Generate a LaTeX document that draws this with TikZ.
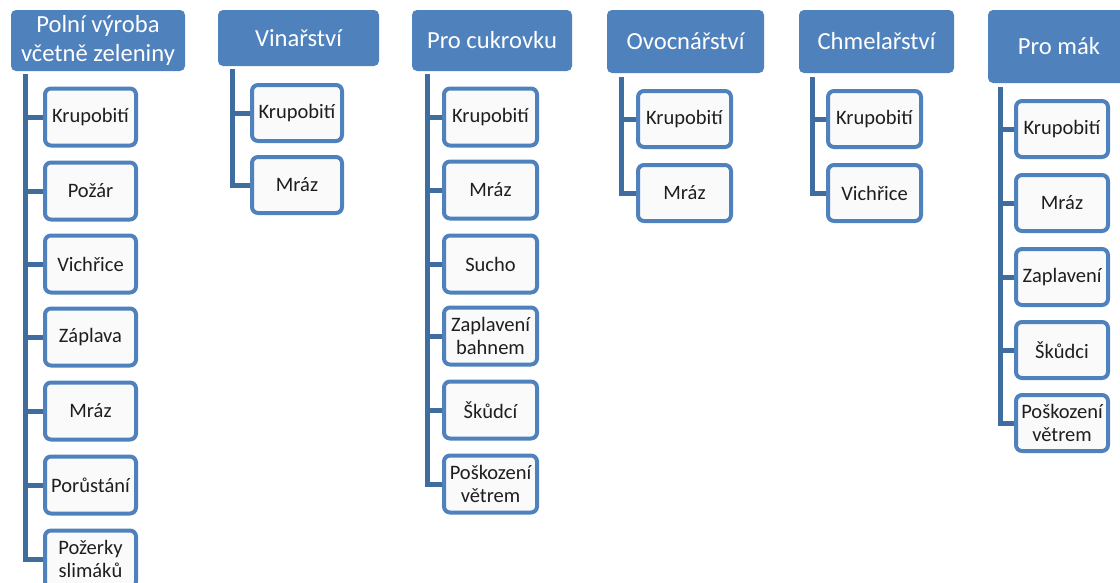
\documentclass[tikz,border=0pt]{standalone}
\usepackage{fontspec}
\setmainfont{Carlito}
\usetikzlibrary{backgrounds}
\definecolor{hdr}{HTML}{4F81BD}
\definecolor{brd}{HTML}{4F81BD}
\definecolor{connc}{HTML}{3F6D9F}
\definecolor{cfill}{HTML}{FAFAFA}
\definecolor{ctext}{HTML}{1E1E1E}
\tikzset{
  hdrbox/.style={fill=hdr, draw=none, rounded corners=5pt, text=white, align=center,
    font=\fontsize{24.6}{29}\selectfont, inner sep=0pt, outer sep=0pt},
  childbox/.style={draw=brd, line width=4pt, fill=cfill, rounded corners=6pt,
    minimum width=91pt, minimum height=57pt, inner sep=0pt, outer sep=0pt, align=center,
    text=ctext, font=\fontsize{20.5}{22.5}\selectfont},
  connline/.style={draw=connc, line width=5pt, line join=miter}
}
\begin{document}
\begin{tikzpicture}[x=1pt,y=-1pt]
\useasboundingbox (0,0) rectangle (1120,582);
\clip (0,0) rectangle (1120,582);
% headers
\node[hdrbox, minimum width=174pt, minimum height=61pt] (h1) at (98,40.5) {Polní výroba\\včetně zeleniny};
\node[hdrbox, minimum width=161pt, minimum height=56pt] (h2) at (298.5,38) {Vinařství};
\node[hdrbox, minimum width=160pt, minimum height=61pt] (h3) at (492,40.5) {Pro cukrovku};
\node[hdrbox, minimum width=157pt, minimum height=63pt] (h4) at (685.5,41.5) {Ovocnářství};
\node[hdrbox, minimum width=155pt, minimum height=63pt] (h5) at (876.5,41.5) {Chmelařství};
\node[hdrbox, minimum width=142pt, minimum height=73pt] (h6) at (1059,46.5) {Pro mák};
% column 1
\node[childbox] (c1a) at (90.5,117) {Krupobití};
\node[childbox] (c1b) at (90.5,191) {Požár};
\node[childbox] (c1c) at (90.5,264) {Vichřice};
\node[childbox] (c1d) at (90.5,337) {Záplava};
\node[childbox] (c1e) at (90.5,411) {Mráz};
\node[childbox] (c1f) at (90.5,485) {Porůstání};
\node[childbox] (c1g) at (90.5,559) {Požerky\\slimáků};
% column 2
\node[childbox, minimum width=90pt, minimum height=56pt] (c2a) at (297,113) {Krupobití};
\node[childbox, minimum width=90pt, minimum height=56pt] (c2b) at (297,185) {Mráz};
% column 3
\node[childbox, minimum width=93pt] (c3a) at (490.5,117) {Krupobití};
\node[childbox, minimum width=93pt] (c3b) at (490.5,190) {Mráz};
\node[childbox, minimum width=93pt] (c3c) at (490.5,264) {Sucho};
\node[childbox, minimum width=93pt] (c3d) at (490.5,336) {Zaplavení\\bahnem};
\node[childbox, minimum width=93pt] (c3e) at (490.5,410) {Škůdcí};
\node[childbox, minimum width=93pt] (c3f) at (490.5,484) {Poškození\\větrem};
% column 4
\node[childbox, minimum width=93pt, minimum height=56pt] (c4a) at (684.5,119) {Krupobití};
\node[childbox, minimum width=93pt, minimum height=56pt] (c4b) at (684.5,193) {Mráz};
% column 5
\node[childbox, minimum width=93pt, minimum height=56pt] (c5a) at (874.5,119) {Krupobití};
\node[childbox, minimum width=93pt, minimum height=56pt] (c5b) at (874.5,193) {Vichřice};
% column 6
\node[childbox, minimum width=92pt, minimum height=56pt] (c6a) at (1062,129) {Krupobití};
\node[childbox, minimum width=92pt, minimum height=56pt] (c6b) at (1062,203) {Mráz};
\node[childbox, minimum width=92pt, minimum height=56pt] (c6c) at (1062,277) {Zaplavení};
\node[childbox, minimum width=92pt, minimum height=56pt] (c6d) at (1062,350) {Škůdci};
\node[childbox, minimum width=92pt, minimum height=56pt] (c6e) at (1062,423) {Poškození\\větrem};
% connector tops
\coordinate (t1) at (25,74);
\coordinate (t2) at (232,69);
\coordinate (t3) at (427,74);
\coordinate (t4) at (621,77);
\coordinate (t5) at (812,77);
\coordinate (t6) at (1000,87);
\begin{scope}[on background layer]
\foreach \c in {c1a,c1b,c1c,c1d,c1e,c1f,c1g} \draw[connline] (t1) |- (\c.west);
\foreach \c in {c2a,c2b} \draw[connline] (t2) |- (\c.west);
\foreach \c in {c3a,c3b,c3c,c3d,c3e,c3f} \draw[connline] (t3) |- (\c.west);
\foreach \c in {c4a,c4b} \draw[connline] (t4) |- (\c.west);
\foreach \c in {c5a,c5b} \draw[connline] (t5) |- (\c.west);
\foreach \c in {c6a,c6b,c6c,c6d,c6e} \draw[connline] (t6) |- (\c.west);
\end{scope}
\end{tikzpicture}
\end{document}
